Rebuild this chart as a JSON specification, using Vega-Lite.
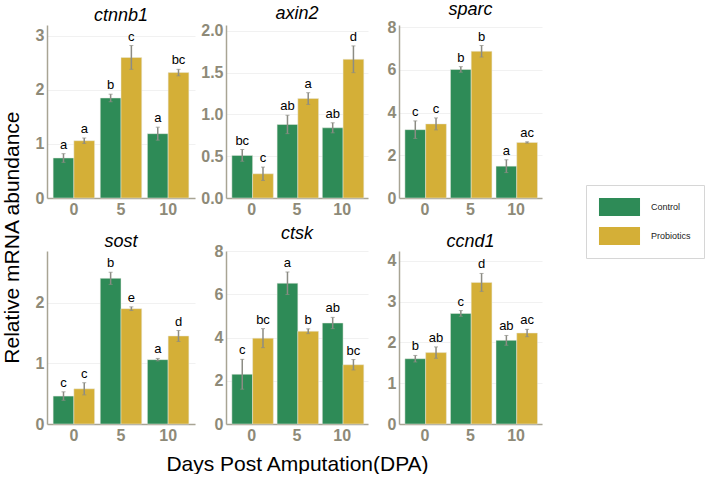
{
  "$schema": "https://vega.github.io/schema/vega-lite/v6.json",
  "background": "white",
  "padding": {"left": 2, "top": 1, "right": 0, "bottom": 0},
  "config": {
    "font": "Liberation Sans",
    "view": {"stroke": null},
    "axis": {
      "domainColor": "#a8a494",
      "domainWidth": 1.5,
      "labelColor": "#8e8a78",
      "labelFont": "Liberation Sans",
      "labelFontWeight": "bold",
      "labelFontSize": 16,
      "ticks": false,
      "gridColor": "#eeeeee",
      "gridWidth": 0.8,
      "labelPadding": 3
    },
    "title": {"font": "Liberation Sans"}
  },
  "title": {"text": "Relative mRNA abundance", "orient": "left", "anchor": "middle", "fontSize": 21, "fontWeight": "normal", "color": "black", "offset": 12},
  "data": {"values": [
    {"gene": "ctnnb1", "dpa": 0, "group": "Control", "mean": 0.74, "lo": 0.66, "hi": 0.82, "sig": "a"},
    {"gene": "ctnnb1", "dpa": 0, "group": "Probiotics", "mean": 1.06, "lo": 1.01, "hi": 1.11, "sig": "a"},
    {"gene": "ctnnb1", "dpa": 5, "group": "Control", "mean": 1.85, "lo": 1.78, "hi": 1.92, "sig": "b"},
    {"gene": "ctnnb1", "dpa": 5, "group": "Probiotics", "mean": 2.6, "lo": 2.38, "hi": 2.82, "sig": "c"},
    {"gene": "ctnnb1", "dpa": 10, "group": "Control", "mean": 1.19, "lo": 1.07, "hi": 1.31, "sig": "a"},
    {"gene": "ctnnb1", "dpa": 10, "group": "Probiotics", "mean": 2.32, "lo": 2.26, "hi": 2.38, "sig": "bc"},
    {"gene": "axin2", "dpa": 0, "group": "Control", "mean": 0.51, "lo": 0.44, "hi": 0.58, "sig": "bc"},
    {"gene": "axin2", "dpa": 0, "group": "Probiotics", "mean": 0.29, "lo": 0.21, "hi": 0.37, "sig": "c"},
    {"gene": "axin2", "dpa": 5, "group": "Control", "mean": 0.88, "lo": 0.77, "hi": 0.99, "sig": "ab"},
    {"gene": "axin2", "dpa": 5, "group": "Probiotics", "mean": 1.19, "lo": 1.12, "hi": 1.26, "sig": "a"},
    {"gene": "axin2", "dpa": 10, "group": "Control", "mean": 0.84, "lo": 0.78, "hi": 0.9, "sig": "ab"},
    {"gene": "axin2", "dpa": 10, "group": "Probiotics", "mean": 1.66, "lo": 1.5, "hi": 1.82, "sig": "d"},
    {"gene": "sparc", "dpa": 0, "group": "Control", "mean": 3.2, "lo": 2.79, "hi": 3.61, "sig": "c"},
    {"gene": "sparc", "dpa": 0, "group": "Probiotics", "mean": 3.47, "lo": 3.19, "hi": 3.75, "sig": "c"},
    {"gene": "sparc", "dpa": 5, "group": "Control", "mean": 6.02, "lo": 5.89, "hi": 6.15, "sig": "b"},
    {"gene": "sparc", "dpa": 5, "group": "Probiotics", "mean": 6.87, "lo": 6.6, "hi": 7.14, "sig": "b"},
    {"gene": "sparc", "dpa": 10, "group": "Control", "mean": 1.49, "lo": 1.19, "hi": 1.79, "sig": "a"},
    {"gene": "sparc", "dpa": 10, "group": "Probiotics", "mean": 2.6, "lo": 2.57, "hi": 2.63, "sig": "ac"},
    {"gene": "sost", "dpa": 0, "group": "Control", "mean": 0.46, "lo": 0.39, "hi": 0.53, "sig": "c"},
    {"gene": "sost", "dpa": 0, "group": "Probiotics", "mean": 0.58, "lo": 0.48, "hi": 0.68, "sig": "c"},
    {"gene": "sost", "dpa": 5, "group": "Control", "mean": 2.4, "lo": 2.3, "hi": 2.5, "sig": "b"},
    {"gene": "sost", "dpa": 5, "group": "Probiotics", "mean": 1.9, "lo": 1.87, "hi": 1.93, "sig": "e"},
    {"gene": "sost", "dpa": 10, "group": "Control", "mean": 1.06, "lo": 1.04, "hi": 1.08, "sig": "a"},
    {"gene": "sost", "dpa": 10, "group": "Probiotics", "mean": 1.45, "lo": 1.36, "hi": 1.54, "sig": "d"},
    {"gene": "ctsk", "dpa": 0, "group": "Control", "mean": 2.3, "lo": 1.61, "hi": 2.99, "sig": "c"},
    {"gene": "ctsk", "dpa": 0, "group": "Probiotics", "mean": 3.97, "lo": 3.53, "hi": 4.41, "sig": "bc"},
    {"gene": "ctsk", "dpa": 5, "group": "Control", "mean": 6.51, "lo": 5.99, "hi": 7.03, "sig": "a"},
    {"gene": "ctsk", "dpa": 5, "group": "Probiotics", "mean": 4.29, "lo": 4.18, "hi": 4.4, "sig": "b"},
    {"gene": "ctsk", "dpa": 10, "group": "Control", "mean": 4.67, "lo": 4.41, "hi": 4.93, "sig": "ab"},
    {"gene": "ctsk", "dpa": 10, "group": "Probiotics", "mean": 2.74, "lo": 2.5, "hi": 2.98, "sig": "bc"},
    {"gene": "ccnd1", "dpa": 0, "group": "Control", "mean": 1.6, "lo": 1.52, "hi": 1.68, "sig": "b"},
    {"gene": "ccnd1", "dpa": 0, "group": "Probiotics", "mean": 1.75, "lo": 1.61, "hi": 1.89, "sig": "ab"},
    {"gene": "ccnd1", "dpa": 5, "group": "Control", "mean": 2.71, "lo": 2.64, "hi": 2.78, "sig": "c"},
    {"gene": "ccnd1", "dpa": 5, "group": "Probiotics", "mean": 3.47, "lo": 3.25, "hi": 3.69, "sig": "d"},
    {"gene": "ccnd1", "dpa": 10, "group": "Control", "mean": 2.05, "lo": 1.93, "hi": 2.17, "sig": "ab"},
    {"gene": "ccnd1", "dpa": 10, "group": "Probiotics", "mean": 2.23, "lo": 2.14, "hi": 2.32, "sig": "ac"}
  ]},
  "bounds": "flush",
  "columns": 3,
  "spacing": {"row": 53, "column": 31},
  "concat": [
    {
      "title": {"text": "ctnnb1", "fontStyle": "italic", "fontSize": 18, "fontWeight": "normal", "offset": 0},
      "width": 148, "height": 173,
      "transform": [{"filter": "datum.gene === 'ctnnb1'"}],
      "encoding": {
        "x": {"field": "dpa", "type": "ordinal", "sort": [0, 5, 10], "scale": {"paddingInner": 0.12, "paddingOuter": 0.13}, "axis": {"title": null, "labelAngle": 0}},
        "xOffset": {"field": "group", "sort": ["Control", "Probiotics"]}
      },
      "layer": [
        {"mark": {"type": "bar", "stroke": "#e8e8e0", "strokeWidth": 0.5}, "encoding": {"y": {"field": "mean", "type": "quantitative", "scale": {"domain": [0, 3.2], "nice": false}, "axis": {"title": null, "values": [0, 1, 2, 3], "format": "d"}}, "color": {"field": "group", "type": "nominal", "scale": {"domain": ["Control", "Probiotics"], "range": ["#2e8b57", "#d4af37"]}, "legend": {"title": null, "orient": "none", "legendX": 539, "legendY": 160, "symbolType": "M-2.28,-1H2.28V1H-2.28Z", "symbolSize": 324, "symbolStrokeWidth": 0, "symbolOpacity": 1, "symbolOffset": 11.5, "labelFontSize": 9, "labelFont": "Liberation Sans", "labelColor": "#222222", "labelOffset": 22.5, "rowPadding": 11, "padding": 13, "strokeColor": "#d6d6d6", "fillColor": "white"}}}},
        {"mark": {"type": "rule", "color": "#8c8c84", "strokeWidth": 1.5}, "encoding": {"y": {"field": "lo", "type": "quantitative", "scale": {"domain": [0, 3.2], "nice": false}}, "y2": {"field": "hi"}}},
        {"mark": {"type": "tick", "color": "#8c8c84", "size": 4, "thickness": 1}, "encoding": {"y": {"field": "lo", "type": "quantitative", "scale": {"domain": [0, 3.2], "nice": false}}}},
        {"mark": {"type": "tick", "color": "#8c8c84", "size": 4, "thickness": 1}, "encoding": {"y": {"field": "hi", "type": "quantitative", "scale": {"domain": [0, 3.2], "nice": false}}}},
        {"mark": {"type": "text", "dy": -9, "fontSize": 13, "color": "black"}, "encoding": {"y": {"field": "hi", "type": "quantitative", "scale": {"domain": [0, 3.2], "nice": false}}, "text": {"field": "sig"}}}
      ]
    },
    {
      "title": {"text": "axin2", "fontStyle": "italic", "fontSize": 18, "fontWeight": "normal", "offset": 0},
      "width": 142, "height": 173,
      "transform": [{"filter": "datum.gene === 'axin2'"}],
      "encoding": {
        "x": {"field": "dpa", "type": "ordinal", "sort": [0, 5, 10], "scale": {"paddingInner": 0.12, "paddingOuter": 0.13}, "axis": {"title": null, "labelAngle": 0}},
        "xOffset": {"field": "group", "sort": ["Control", "Probiotics"]}
      },
      "layer": [
        {"mark": {"type": "bar", "stroke": "#e8e8e0", "strokeWidth": 0.5}, "encoding": {"y": {"field": "mean", "type": "quantitative", "scale": {"domain": [0, 2.07], "nice": false}, "axis": {"title": null, "values": [0, 0.5, 1, 1.5, 2], "format": ".1f"}}, "color": {"field": "group", "type": "nominal", "scale": {"domain": ["Control", "Probiotics"], "range": ["#2e8b57", "#d4af37"]}, "legend": {"title": null, "orient": "none", "legendX": 539, "legendY": 160, "symbolType": "M-2.28,-1H2.28V1H-2.28Z", "symbolSize": 324, "symbolStrokeWidth": 0, "symbolOpacity": 1, "symbolOffset": 11.5, "labelFontSize": 9, "labelFont": "Liberation Sans", "labelColor": "#222222", "labelOffset": 22.5, "rowPadding": 11, "padding": 13, "strokeColor": "#d6d6d6", "fillColor": "white"}}}},
        {"mark": {"type": "rule", "color": "#8c8c84", "strokeWidth": 1.5}, "encoding": {"y": {"field": "lo", "type": "quantitative", "scale": {"domain": [0, 2.07], "nice": false}}, "y2": {"field": "hi"}}},
        {"mark": {"type": "tick", "color": "#8c8c84", "size": 4, "thickness": 1}, "encoding": {"y": {"field": "lo", "type": "quantitative", "scale": {"domain": [0, 2.07], "nice": false}}}},
        {"mark": {"type": "tick", "color": "#8c8c84", "size": 4, "thickness": 1}, "encoding": {"y": {"field": "hi", "type": "quantitative", "scale": {"domain": [0, 2.07], "nice": false}}}},
        {"mark": {"type": "text", "dy": -9, "fontSize": 13, "color": "black"}, "encoding": {"y": {"field": "hi", "type": "quantitative", "scale": {"domain": [0, 2.07], "nice": false}}, "text": {"field": "sig"}}}
      ]
    },
    {
      "title": {"text": "sparc", "fontStyle": "italic", "fontSize": 18, "fontWeight": "normal", "offset": 0},
      "width": 143, "height": 173,
      "transform": [{"filter": "datum.gene === 'sparc'"}],
      "encoding": {
        "x": {"field": "dpa", "type": "ordinal", "sort": [0, 5, 10], "scale": {"paddingInner": 0.12, "paddingOuter": 0.13}, "axis": {"title": null, "labelAngle": 0}},
        "xOffset": {"field": "group", "sort": ["Control", "Probiotics"]}
      },
      "layer": [
        {"mark": {"type": "bar", "stroke": "#e8e8e0", "strokeWidth": 0.5}, "encoding": {"y": {"field": "mean", "type": "quantitative", "scale": {"domain": [0, 8.1], "nice": false}, "axis": {"title": null, "values": [0, 2, 4, 6, 8], "format": "d"}}, "color": {"field": "group", "type": "nominal", "scale": {"domain": ["Control", "Probiotics"], "range": ["#2e8b57", "#d4af37"]}, "legend": {"title": null, "orient": "none", "legendX": 539, "legendY": 160, "symbolType": "M-2.28,-1H2.28V1H-2.28Z", "symbolSize": 324, "symbolStrokeWidth": 0, "symbolOpacity": 1, "symbolOffset": 11.5, "labelFontSize": 9, "labelFont": "Liberation Sans", "labelColor": "#222222", "labelOffset": 22.5, "rowPadding": 11, "padding": 13, "strokeColor": "#d6d6d6", "fillColor": "white"}}}},
        {"mark": {"type": "rule", "color": "#8c8c84", "strokeWidth": 1.5}, "encoding": {"y": {"field": "lo", "type": "quantitative", "scale": {"domain": [0, 8.1], "nice": false}}, "y2": {"field": "hi"}}},
        {"mark": {"type": "tick", "color": "#8c8c84", "size": 4, "thickness": 1}, "encoding": {"y": {"field": "lo", "type": "quantitative", "scale": {"domain": [0, 8.1], "nice": false}}}},
        {"mark": {"type": "tick", "color": "#8c8c84", "size": 4, "thickness": 1}, "encoding": {"y": {"field": "hi", "type": "quantitative", "scale": {"domain": [0, 8.1], "nice": false}}}},
        {"mark": {"type": "text", "dy": -9, "fontSize": 13, "color": "black"}, "encoding": {"y": {"field": "hi", "type": "quantitative", "scale": {"domain": [0, 8.1], "nice": false}}, "text": {"field": "sig"}}}
      ]
    },
    {
      "title": {"text": "sost", "fontStyle": "italic", "fontSize": 18, "fontWeight": "normal", "offset": 0},
      "width": 148, "height": 173,
      "transform": [{"filter": "datum.gene === 'sost'"}],
      "encoding": {
        "x": {"field": "dpa", "type": "ordinal", "sort": [0, 5, 10], "scale": {"paddingInner": 0.12, "paddingOuter": 0.13}, "axis": {"title": null, "labelAngle": 0}},
        "xOffset": {"field": "group", "sort": ["Control", "Probiotics"]}
      },
      "layer": [
        {"mark": {"type": "bar", "stroke": "#e8e8e0", "strokeWidth": 0.5}, "encoding": {"y": {"field": "mean", "type": "quantitative", "scale": {"domain": [0, 2.85], "nice": false}, "axis": {"title": null, "values": [0, 1, 2], "format": "d"}}, "color": {"field": "group", "type": "nominal", "scale": {"domain": ["Control", "Probiotics"], "range": ["#2e8b57", "#d4af37"]}, "legend": {"title": null, "orient": "none", "legendX": 539, "legendY": 160, "symbolType": "M-2.28,-1H2.28V1H-2.28Z", "symbolSize": 324, "symbolStrokeWidth": 0, "symbolOpacity": 1, "symbolOffset": 11.5, "labelFontSize": 9, "labelFont": "Liberation Sans", "labelColor": "#222222", "labelOffset": 22.5, "rowPadding": 11, "padding": 13, "strokeColor": "#d6d6d6", "fillColor": "white"}}}},
        {"mark": {"type": "rule", "color": "#8c8c84", "strokeWidth": 1.5}, "encoding": {"y": {"field": "lo", "type": "quantitative", "scale": {"domain": [0, 2.85], "nice": false}}, "y2": {"field": "hi"}}},
        {"mark": {"type": "tick", "color": "#8c8c84", "size": 4, "thickness": 1}, "encoding": {"y": {"field": "lo", "type": "quantitative", "scale": {"domain": [0, 2.85], "nice": false}}}},
        {"mark": {"type": "tick", "color": "#8c8c84", "size": 4, "thickness": 1}, "encoding": {"y": {"field": "hi", "type": "quantitative", "scale": {"domain": [0, 2.85], "nice": false}}}},
        {"mark": {"type": "text", "dy": -9, "fontSize": 13, "color": "black"}, "encoding": {"y": {"field": "hi", "type": "quantitative", "scale": {"domain": [0, 2.85], "nice": false}}, "text": {"field": "sig"}}}
      ]
    },
    {
      "title": {"text": "ctsk", "fontStyle": "italic", "fontSize": 18, "fontWeight": "normal", "offset": 0},
      "width": 142, "height": 173,
      "transform": [{"filter": "datum.gene === 'ctsk'"}],
      "encoding": {
        "x": {"field": "dpa", "type": "ordinal", "sort": [0, 5, 10], "scale": {"paddingInner": 0.12, "paddingOuter": 0.13}, "axis": {"title": "Days Post Amputation(DPA)", "titleFontSize": 21, "titleFontWeight": "normal", "titleColor": "black", "titlePadding": 10, "labelAngle": 0}},
        "xOffset": {"field": "group", "sort": ["Control", "Probiotics"]}
      },
      "layer": [
        {"mark": {"type": "bar", "stroke": "#e8e8e0", "strokeWidth": 0.5}, "encoding": {"y": {"field": "mean", "type": "quantitative", "scale": {"domain": [0, 8], "nice": false}, "axis": {"title": null, "values": [0, 2, 4, 6, 8], "format": "d"}}, "color": {"field": "group", "type": "nominal", "scale": {"domain": ["Control", "Probiotics"], "range": ["#2e8b57", "#d4af37"]}, "legend": {"title": null, "orient": "none", "legendX": 539, "legendY": 160, "symbolType": "M-2.28,-1H2.28V1H-2.28Z", "symbolSize": 324, "symbolStrokeWidth": 0, "symbolOpacity": 1, "symbolOffset": 11.5, "labelFontSize": 9, "labelFont": "Liberation Sans", "labelColor": "#222222", "labelOffset": 22.5, "rowPadding": 11, "padding": 13, "strokeColor": "#d6d6d6", "fillColor": "white"}}}},
        {"mark": {"type": "rule", "color": "#8c8c84", "strokeWidth": 1.5}, "encoding": {"y": {"field": "lo", "type": "quantitative", "scale": {"domain": [0, 8], "nice": false}}, "y2": {"field": "hi"}}},
        {"mark": {"type": "tick", "color": "#8c8c84", "size": 4, "thickness": 1}, "encoding": {"y": {"field": "lo", "type": "quantitative", "scale": {"domain": [0, 8], "nice": false}}}},
        {"mark": {"type": "tick", "color": "#8c8c84", "size": 4, "thickness": 1}, "encoding": {"y": {"field": "hi", "type": "quantitative", "scale": {"domain": [0, 8], "nice": false}}}},
        {"mark": {"type": "text", "dy": -9, "fontSize": 13, "color": "black"}, "encoding": {"y": {"field": "hi", "type": "quantitative", "scale": {"domain": [0, 8], "nice": false}}, "text": {"field": "sig"}}}
      ]
    },
    {
      "title": {"text": "ccnd1", "fontStyle": "italic", "fontSize": 18, "fontWeight": "normal", "offset": 0},
      "width": 143, "height": 173,
      "transform": [{"filter": "datum.gene === 'ccnd1'"}],
      "encoding": {
        "x": {"field": "dpa", "type": "ordinal", "sort": [0, 5, 10], "scale": {"paddingInner": 0.12, "paddingOuter": 0.13}, "axis": {"title": null, "labelAngle": 0}},
        "xOffset": {"field": "group", "sort": ["Control", "Probiotics"]}
      },
      "layer": [
        {"mark": {"type": "bar", "stroke": "#e8e8e0", "strokeWidth": 0.5}, "encoding": {"y": {"field": "mean", "type": "quantitative", "scale": {"domain": [0, 4.24], "nice": false}, "axis": {"title": null, "values": [0, 1, 2, 3, 4], "format": "d"}}, "color": {"field": "group", "type": "nominal", "scale": {"domain": ["Control", "Probiotics"], "range": ["#2e8b57", "#d4af37"]}, "legend": {"title": null, "orient": "none", "legendX": 539, "legendY": 160, "symbolType": "M-2.28,-1H2.28V1H-2.28Z", "symbolSize": 324, "symbolStrokeWidth": 0, "symbolOpacity": 1, "symbolOffset": 11.5, "labelFontSize": 9, "labelFont": "Liberation Sans", "labelColor": "#222222", "labelOffset": 22.5, "rowPadding": 11, "padding": 13, "strokeColor": "#d6d6d6", "fillColor": "white"}}}},
        {"mark": {"type": "rule", "color": "#8c8c84", "strokeWidth": 1.5}, "encoding": {"y": {"field": "lo", "type": "quantitative", "scale": {"domain": [0, 4.24], "nice": false}}, "y2": {"field": "hi"}}},
        {"mark": {"type": "tick", "color": "#8c8c84", "size": 4, "thickness": 1}, "encoding": {"y": {"field": "lo", "type": "quantitative", "scale": {"domain": [0, 4.24], "nice": false}}}},
        {"mark": {"type": "tick", "color": "#8c8c84", "size": 4, "thickness": 1}, "encoding": {"y": {"field": "hi", "type": "quantitative", "scale": {"domain": [0, 4.24], "nice": false}}}},
        {"mark": {"type": "text", "dy": -9, "fontSize": 13, "color": "black"}, "encoding": {"y": {"field": "hi", "type": "quantitative", "scale": {"domain": [0, 4.24], "nice": false}}, "text": {"field": "sig"}}}
      ]
    }
  ]
}
